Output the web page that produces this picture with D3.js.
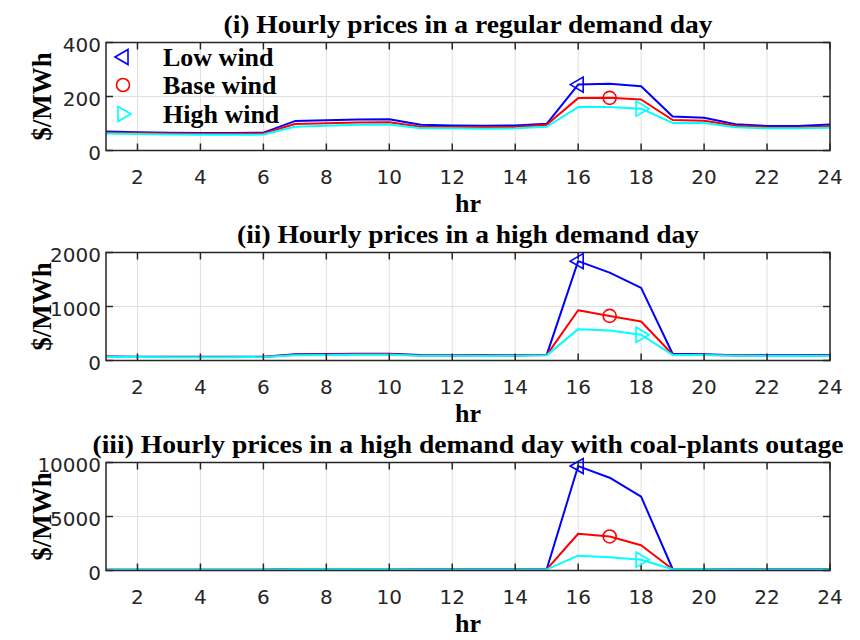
<!DOCTYPE html>
<html>
<head>
<meta charset="utf-8">
<script src="https://cdn.jsdelivr.net/npm/d3@7"></script>
<style>
  body { margin: 0; background: #fff; }
  svg { display: block; }
  .tick-label { font-family: "DejaVu Sans", sans-serif; font-size: 20px; fill: #262626; }
  .serif { font-family: "Liberation Serif", "Times New Roman", serif; font-weight: bold; fill: #000; }
</style>
</head>
<body>
<svg id="chart" width="860" height="640"></svg>
<script>
// hours of the day
const hours = [1, 2, 3, 4, 5, 6, 7, 8, 9, 10, 11, 12, 13, 14, 15, 16, 17, 18, 19, 20, 21, 22, 23, 24];
const xTicks = [2, 4, 6, 8, 10, 12, 14, 16, 18, 20, 22, 24];

// (i) regular demand day, $/MWh
const regularLow = [70, 68, 66, 65, 65, 66, 109, 112, 115, 116, 95, 93, 92, 93, 99, 244, 247, 238, 126, 121, 97, 91, 91, 96];
const regularBase = [66, 65, 63, 62, 62, 63, 98, 101, 104, 105, 88, 87, 86, 87, 95, 194, 195, 189, 113, 110, 92, 86, 85, 90];
const regularHigh = [63, 61, 59, 58, 58, 59, 88, 92, 95, 96, 82, 82, 81, 82, 88, 161, 161, 155, 102, 102, 86, 82, 82, 84];

// (ii) high demand day
const highDemandLow = [72, 70, 69, 68, 68, 70, 118, 122, 125, 126, 100, 98, 97, 98, 105, 1840, 1627, 1345, 125, 118, 98, 95, 95, 100];
const highDemandBase = [68, 67, 66, 65, 65, 67, 108, 112, 115, 116, 93, 92, 91, 92, 100, 930, 826, 721, 112, 106, 92, 89, 88, 93];
const highDemandHigh = [64, 63, 62, 61, 61, 63, 98, 102, 105, 106, 87, 86, 85, 86, 95, 581, 556, 477, 104, 100, 88, 85, 85, 88];

// (iii) high demand day with coal-plants outage
const outageLow = [80, 78, 77, 76, 76, 78, 130, 135, 138, 140, 110, 108, 107, 108, 120, 9670, 8590, 6835, 140, 130, 108, 105, 105, 110];
const outageBase = [75, 73, 72, 71, 71, 73, 118, 123, 126, 128, 102, 100, 99, 100, 110, 3400, 3155, 2340, 120, 115, 100, 97, 97, 102];
const outageHigh = [70, 68, 67, 66, 66, 68, 106, 110, 113, 115, 95, 93, 92, 93, 100, 1375, 1217, 1000, 110, 106, 94, 91, 91, 95];

const titles = [
  "(i) Hourly prices in a regular demand day",
  "(ii) Hourly prices in a high demand day",
  "(iii) Hourly prices in a high demand day with coal-plants outage"
];
const yTickSets = [[0, 200, 400], [0, 1000, 2000], [0, 5000, 10000]];
const yMaxes = [400, 2000, 10000];
const seriesNames = ["Low wind", "Base wind", "High wind"];
const seriesColors = ["#0000ff", "#ff0000", "#00ffff"];
// the hour where each series carries its marker
const markerHours = [16, 17, 18];

const panels = [
  { title: titles[0], titleW: 489, top: 42.5, yTicks: yTickSets[0], yMax: yMaxes[0], series: [regularLow, regularBase, regularHigh] },
  { title: titles[1], titleW: 462, top: 252.5, yTicks: yTickSets[1], yMax: yMaxes[1], series: [highDemandLow, highDemandBase, highDemandHigh] },
  { title: titles[2], titleW: 751, top: 462.5, yTicks: yTickSets[2], yMax: yMaxes[2], series: [outageLow, outageBase, outageHigh] }
];

const svg = d3.select("#chart");
svg.append("rect").attr("width", 860).attr("height", 640).attr("fill", "#fff");

const left = 106, right = 830, plotH = 108, tickLen = 7;
const axisColor = "#262626";
const x = d3.scaleLinear().domain([1, 24]).range([left, right]);

function markerPath(kind) {
  if (kind === 0) return "M-8,0L5,-7.5L5,7.5Z";   // triangle pointing left
  if (kind === 2) return "M8,0L-5,-7.5L-5,7.5Z";   // triangle pointing right
  return d3.symbol().type(d3.symbolCircle).size(Math.PI * 6.5 * 6.5)();
}

function drawPanel(p) {
  const top = p.top, bottom = top + plotH;
  const y = d3.scaleLinear().domain([0, p.yMax]).range([bottom, top]);
  const g = svg.append("g");

  // grid
  g.selectAll("line.gx").data(xTicks).enter().append("line")
    .attr("x1", d => x(d)).attr("x2", d => x(d))
    .attr("y1", top).attr("y2", bottom)
    .attr("stroke", "#dfdfdf").attr("stroke-width", 1);
  g.selectAll("line.gy").data(p.yTicks).enter().append("line")
    .attr("x1", left).attr("x2", right)
    .attr("y1", d => y(d)).attr("y2", d => y(d))
    .attr("stroke", "#dfdfdf").attr("stroke-width", 1);

  // lines
  const line = d3.line().x((d, i) => x(hours[i])).y(d => y(d));
  p.series.forEach((vals, k) => {
    g.append("path").datum(vals)
      .attr("d", line)
      .attr("fill", "none")
      .attr("stroke", seriesColors[k])
      .attr("stroke-width", 2)
      .attr("stroke-linejoin", "round");
  });

  // box with inward ticks on all sides
  g.append("rect")
    .attr("x", left).attr("y", top)
    .attr("width", right - left).attr("height", plotH)
    .attr("fill", "none").attr("stroke", axisColor).attr("stroke-width", 1.5);
  xTicks.forEach(t => {
    g.append("line").attr("x1", x(t)).attr("x2", x(t)).attr("y1", bottom).attr("y2", bottom - tickLen)
      .attr("stroke", axisColor).attr("stroke-width", 1.5);
    g.append("line").attr("x1", x(t)).attr("x2", x(t)).attr("y1", top).attr("y2", top + tickLen)
      .attr("stroke", axisColor).attr("stroke-width", 1.5);
  });
  p.yTicks.forEach(t => {
    g.append("line").attr("x1", left).attr("x2", left + tickLen).attr("y1", y(t)).attr("y2", y(t))
      .attr("stroke", axisColor).attr("stroke-width", 1.5);
    g.append("line").attr("x1", right).attr("x2", right - tickLen).attr("y1", y(t)).attr("y2", y(t))
      .attr("stroke", axisColor).attr("stroke-width", 1.5);
  });

  // markers
  p.series.forEach((vals, k) => {
    const h = markerHours[k];
    g.append("path")
      .attr("d", markerPath(k))
      .attr("transform", `translate(${x(h)},${y(vals[hours.indexOf(h)])})`)
      .attr("fill", "none")
      .attr("stroke", seriesColors[k])
      .attr("stroke-width", 1.6);
  });

  // tick labels
  g.selectAll("text.xt").data(xTicks).enter().append("text")
    .attr("class", "tick-label")
    .attr("x", d => x(d)).attr("y", bottom + 33)
    .attr("text-anchor", "middle")
    .text(d => d);
  g.selectAll("text.yt").data(p.yTicks).enter().append("text")
    .attr("class", "tick-label")
    .attr("x", left - 5).attr("y", d => y(d) + 9)
    .attr("text-anchor", "end")
    .text(d => d);

  // title and labels
  g.append("text").attr("class", "serif")
    .attr("x", (left + right) / 2).attr("y", top - 10)
    .attr("text-anchor", "middle").attr("font-size", 25)
    .attr("textLength", p.titleW).attr("lengthAdjust", "spacingAndGlyphs")
    .text(p.title);
  g.append("text").attr("class", "serif")
    .attr("x", (left + right) / 2).attr("y", bottom + 61)
    .attr("text-anchor", "middle").attr("font-size", 26)
    .text("hr");
  g.append("text").attr("class", "serif")
    .attr("transform", `translate(51,${(top + bottom) / 2}) rotate(-90)`)
    .attr("text-anchor", "middle").attr("font-size", 27)
    .text("$/MWh");
}

panels.forEach(drawPanel);

// legend in first panel (markers only, no box)
const legendRows = [57, 85, 114];
const legend = svg.append("g");
seriesNames.forEach((name, k) => {
  legend.append("path")
    .attr("d", markerPath(k))
    .attr("transform", `translate(123,${legendRows[k]})`)
    .attr("fill", "none")
    .attr("stroke", seriesColors[k])
    .attr("stroke-width", 1.6);
  legend.append("text").attr("class", "serif")
    .attr("x", 163).attr("y", legendRows[k] + 9)
    .attr("font-size", 26)
    .text(name);
});
</script>
</body>
</html>
